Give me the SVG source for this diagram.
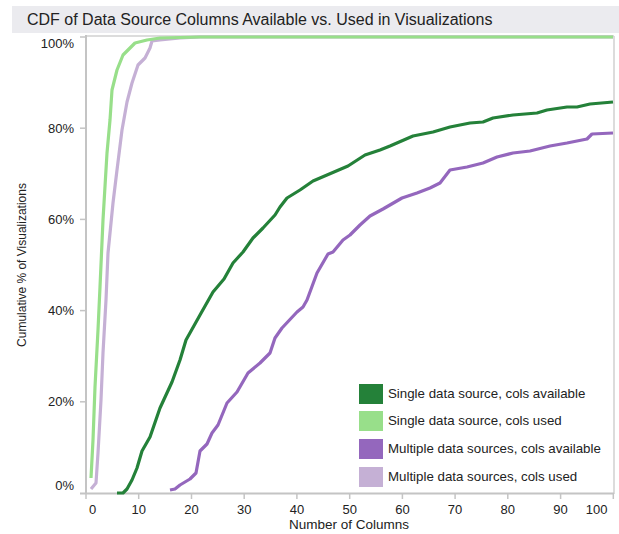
<svg xmlns="http://www.w3.org/2000/svg" width="619" height="534" viewBox="0 0 619 534">
<style>
.t{font-family:"Liberation Sans",Arial,sans-serif;fill:#222}
.ax{stroke:#c4c4c4;stroke-width:2;fill:none}
.fr{stroke:#d0d0d0;stroke-width:1.5;fill:none}
.tk{stroke:#c4c4c4;stroke-width:1.5}
.yl{font-size:13px;text-anchor:end}
.xl{font-size:13px;text-anchor:middle}
.lg{font-size:13.3px}
.ln{fill:none;stroke-width:3.2;stroke-linejoin:round;stroke-linecap:butt}
</style>
<rect width="619" height="534" fill="#ffffff"/>
<g id="title">
<rect x="12" y="6" width="607" height="27" fill="#ebebef"/>
<text class="t" x="27" y="24.5" font-size="16">CDF of Data Source Columns Available vs. Used in Visualizations</text>
</g>
<g id="axes">
<line class="fr" x1="86" y1="36" x2="614" y2="36"/>
<line class="fr" x1="614" y1="36" x2="614" y2="494"/>
<line class="ax" x1="86" y1="35" x2="86" y2="494"/>
<line class="ax" x1="80" y1="493.5" x2="614" y2="493.5"/>
<g class="tk">
<line x1="80" y1="37" x2="86" y2="37"/>
<line x1="80" y1="128.2" x2="86" y2="128.2"/>
<line x1="80" y1="219.4" x2="86" y2="219.4"/>
<line x1="80" y1="310.6" x2="86" y2="310.6"/>
<line x1="80" y1="401.8" x2="86" y2="401.8"/>
<line x1="86" y1="493" x2="86" y2="499"/>
<line x1="138.7" y1="493" x2="138.7" y2="499"/>
<line x1="191.5" y1="493" x2="191.5" y2="499"/>
<line x1="244.2" y1="493" x2="244.2" y2="499"/>
<line x1="296.9" y1="493" x2="296.9" y2="499"/>
<line x1="349.7" y1="493" x2="349.7" y2="499"/>
<line x1="402.4" y1="493" x2="402.4" y2="499"/>
<line x1="455.1" y1="493" x2="455.1" y2="499"/>
<line x1="507.8" y1="493" x2="507.8" y2="499"/>
<line x1="560.6" y1="493" x2="560.6" y2="499"/>
<line x1="613.3" y1="493" x2="613.3" y2="499"/>
</g>
<text class="t yl" x="74" y="47.5">100%</text>
<text class="t yl" x="74" y="132.5">80%</text>
<text class="t yl" x="74" y="223.5">60%</text>
<text class="t yl" x="74" y="314.5">40%</text>
<text class="t yl" x="74" y="406">20%</text>
<text class="t yl" x="74" y="489.5">0%</text>
<text class="t xl" x="92.5" y="514">0</text>
<text class="t xl" x="138.7" y="514">10</text>
<text class="t xl" x="191.5" y="514">20</text>
<text class="t xl" x="244.2" y="514">30</text>
<text class="t xl" x="296.9" y="514">40</text>
<text class="t xl" x="349.7" y="514">50</text>
<text class="t xl" x="402.4" y="514">60</text>
<text class="t xl" x="455.1" y="514">70</text>
<text class="t xl" x="507.8" y="514">80</text>
<text class="t xl" x="560.6" y="514">90</text>
<text class="t xl" x="596.7" y="514">100</text>
<text class="t" x="349" y="529" font-size="13.5" text-anchor="middle">Number of Columns</text>
<text class="t" x="0" y="0" font-size="12" text-anchor="middle" transform="translate(26,265) rotate(-90)">Cumulative % of Visualizations</text>
</g>
<g id="connectors">
<polyline id="multi-used" class="ln" stroke="#c5b0d5" points="91,489 96,483 98,453 101,400 103,353 106,300 108,253 113,203 117,170 122,130 127,102 132,83 138,65 145,58 150,48 152,41 160,40 180,38 200,37 613,37"/>
<polyline id="multi-avail" class="ln" stroke="#9467bd" points="170,490 175,489 180,485 190,479 196,473 200,451 207,444 212,433 218,425 227,403 237,392 248,373 260,363 270,353 275,338 282,328 297,312 303,307 307,300 317,273 328,254 333,252 343,240 350,235 360,225 370,216 383,209 402,198 417,193 430,188 440,183 450,170 467,167 483,163 497,157 513,153 530,151 550,146 567,143 587,139 592,134 613,133"/>
<polyline id="single-avail" class="ln" stroke="#248139" points="117,493 123,493 127,489 132,480 137,468 142,451 150,437 160,408 172,382 180,360 186,340 200,315 213,292 224,279 233,263 243,252 253,238 263,228 275,215 280,207 287,198 300,190 313,181 327,175 348,166 365,155 380,150 390,146 413,136 433,132 450,127 470,123 483,122 493,118 513,115 537,113 547,110 567,107 577,107 590,104 613,102"/>
<polyline id="single-used" class="ln" stroke="#98df8a" points="91,478 93,440 95,387 98,330 100,287 103,220 107,153 110,120 112,90 117,70 123,55 135,43 147,40 160,38 200,37 613,37"/>
</g>
<g id="legend">
<rect x="359" y="384" width="24" height="20" fill="#248139"/>
<rect x="359" y="411" width="24" height="20" fill="#98df8a"/>
<rect x="359" y="439" width="24" height="20" fill="#9467bd"/>
<rect x="359" y="467" width="24" height="20" fill="#c5b0d5"/>
<text class="t lg" x="388" y="397.5">Single data source, cols available</text>
<text class="t lg" x="388" y="424.5">Single data source, cols used</text>
<text class="t lg" x="388" y="452.5">Multiple data sources, cols available</text>
<text class="t lg" x="388" y="480.5">Multiple data sources, cols used</text>
</g>
</svg>
